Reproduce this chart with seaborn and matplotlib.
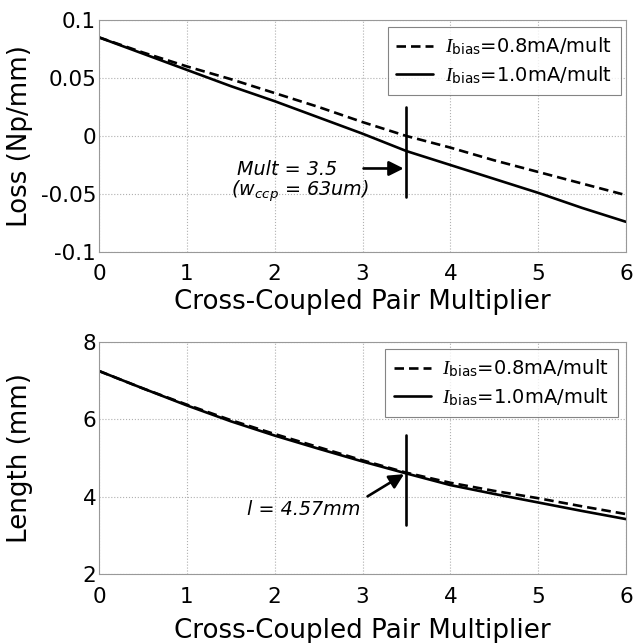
import numpy as np
import pandas as pd
import matplotlib
matplotlib.use("Agg")
import matplotlib.pyplot as plt
import seaborn as sns
from matplotlib.lines import Line2D

sns.set_style("white")
plt.rcParams['font.family'] = ['DejaVu Sans']
plt.rcParams['text.color'] = 'black'
plt.rcParams['mathtext.fontset'] = 'custom'
plt.rcParams['mathtext.it'] = 'Liberation Serif:italic'
plt.rcParams['mathtext.rm'] = 'DejaVu Sans'
plt.rcParams['mathtext.sf'] = 'DejaVu Sans:italic'

mult = [0, 0.5, 1, 1.5, 2, 2.5, 3, 3.5, 4, 4.5, 5, 5.5, 6]
loss_08 = [0.085, 0.072, 0.060, 0.049, 0.037, 0.025, 0.012, 0.000, -0.010, -0.021, -0.031, -0.041, -0.051]
loss_10 = [0.085, 0.071, 0.057, 0.043, 0.030, 0.016, 0.002, -0.013, -0.025, -0.037, -0.049, -0.062, -0.074]
len_08 = [7.25, 6.80, 6.38, 5.98, 5.62, 5.28, 4.94, 4.62, 4.36, 4.15, 3.96, 3.75, 3.55]
len_10 = [7.25, 6.80, 6.36, 5.95, 5.58, 5.24, 4.91, 4.60, 4.30, 4.07, 3.85, 3.63, 3.42]

series = ['0.8', '1.0']
legend_labels = [r'$I_{\mathrm{bias}}$=0.8mA/mult', r'$I_{\mathrm{bias}}$=1.0mA/mult']
xticks = [0, 1, 2, 3, 4, 5, 6]
loss_ticks = [0.1, 0.05, 0, -0.05, -0.1]
loss_ticklabels = ['0.1', '0.05', '0', '-0.05', '-0.1']
len_ticks = [2, 4, 6, 8]
len_ticklabels = ['2', '4', '6', '8']

df_loss = pd.DataFrame({'mult': mult * 2, 'val': loss_08 + loss_10,
                        'series': [series[0]] * len(mult) + [series[1]] * len(mult)})
df_len = pd.DataFrame({'mult': mult * 2, 'val': len_08 + len_10,
                       'series': [series[0]] * len(mult) + [series[1]] * len(mult)})

fig = plt.figure(figsize=(6.36, 6.43), dpi=100)
ax1 = fig.add_axes([0.1557, 0.6081, 0.8286, 0.3608])
ax2 = fig.add_axes([0.1557, 0.1073, 0.8286, 0.3608])

LW = 1.9
DASH = (3.6, 1.9)
dash_map = {series[0]: DASH, series[1]: ''}
for ax, df in [(ax1, df_loss), (ax2, df_len)]:
    sns.lineplot(data=df, x='mult', y='val', style='series', dashes=dash_map,
                 color='black', linewidth=LW, ax=ax, legend=False)

grid_kw = dict(color='#b0b0b0', linestyle=':', linewidth=0.8)
tick_fs = 15.5
lab_fs = 18.8

ax1.set_xlim(0, 6)
ax1.set_ylim(-0.1, 0.1)
ax1.set_yticks(loss_ticks)
ax1.set_yticklabels(loss_ticklabels)
ax2.set_xlim(0, 6)
ax2.set_ylim(2, 8)
ax2.set_yticks(len_ticks)
ax2.set_yticklabels(len_ticklabels)

for ax in (ax1, ax2):
    ax.set_xticks(xticks)
    ax.set_xticklabels([str(t) for t in xticks])
    ax.grid(True, **grid_kw)
    ax.tick_params(axis='both', length=0, labelsize=tick_fs, colors='black')
    ax.tick_params(axis='x', pad=9)
    ax.tick_params(axis='y', pad=2)
    for s in ax.spines.values():
        s.set_color('#999999')
        s.set_linewidth(0.8)
    ax.set_xlabel('Cross-Coupled Pair Multiplier', fontsize=lab_fs, color='black')

ax1.set_ylabel('Loss (Np/mm)', fontsize=lab_fs, color='black')
ax2.set_ylabel('Length (mm)', fontsize=lab_fs, color='black')
ax1.xaxis.set_label_coords(0.5, -0.16)
ax2.xaxis.set_label_coords(0.5, -0.19)
ax1.yaxis.set_label_coords(-0.125, 0.5)
ax2.yaxis.set_label_coords(-0.125, 0.5)

handles = [Line2D([], [], color='black', linewidth=LW, dashes=DASH),
           Line2D([], [], color='black', linewidth=LW)]
for ax, anchor in [(ax1, (0.99, 0.97)), (ax2, (0.985, 0.97))]:
    leg = ax.legend(handles, legend_labels, loc='upper right', bbox_to_anchor=anchor,
                    fontsize=14, frameon=True, fancybox=False, handlelength=1.9,
                    handletextpad=0.6, borderpad=0.45, labelspacing=0.35,
                    borderaxespad=0)
    leg.get_frame().set_edgecolor('#666666')
    leg.get_frame().set_linewidth(0.8)
    for t in leg.get_texts():
        t.set_color('black')

# annotations, top
ax1.plot([3.5, 3.5], [0.025, -0.053], color='black', linewidth=LW)
ax1.annotate('', xy=(3.5, -0.028), xytext=(2.98, -0.028),
             arrowprops=dict(arrowstyle='-|>', color='black', lw=LW, mutation_scale=22))
ax1.text(2.71, -0.029, 'Mult = 3.5', fontsize=13.8, style='italic', ha='right',
         va='center', color='black')
ax1.text(1.50, -0.048, r'($\mathsf{w_{ccp}}$ = 63um)', fontsize=13.8, style='italic',
         ha='left', va='center', color='black')

# annotations, bottom
ax2.plot([3.5, 3.5], [5.6, 3.27], color='black', linewidth=LW)
ax2.annotate('', xy=(3.5, 4.62), xytext=(3.03, 3.97),
             arrowprops=dict(arrowstyle='-|>', color='black', lw=LW, mutation_scale=22))
ax2.text(2.97, 3.68, 'l = 4.57mm', fontsize=13.8, style='italic', ha='right',
         va='center', color='black')

fig.savefig('out.png', dpi=100)
